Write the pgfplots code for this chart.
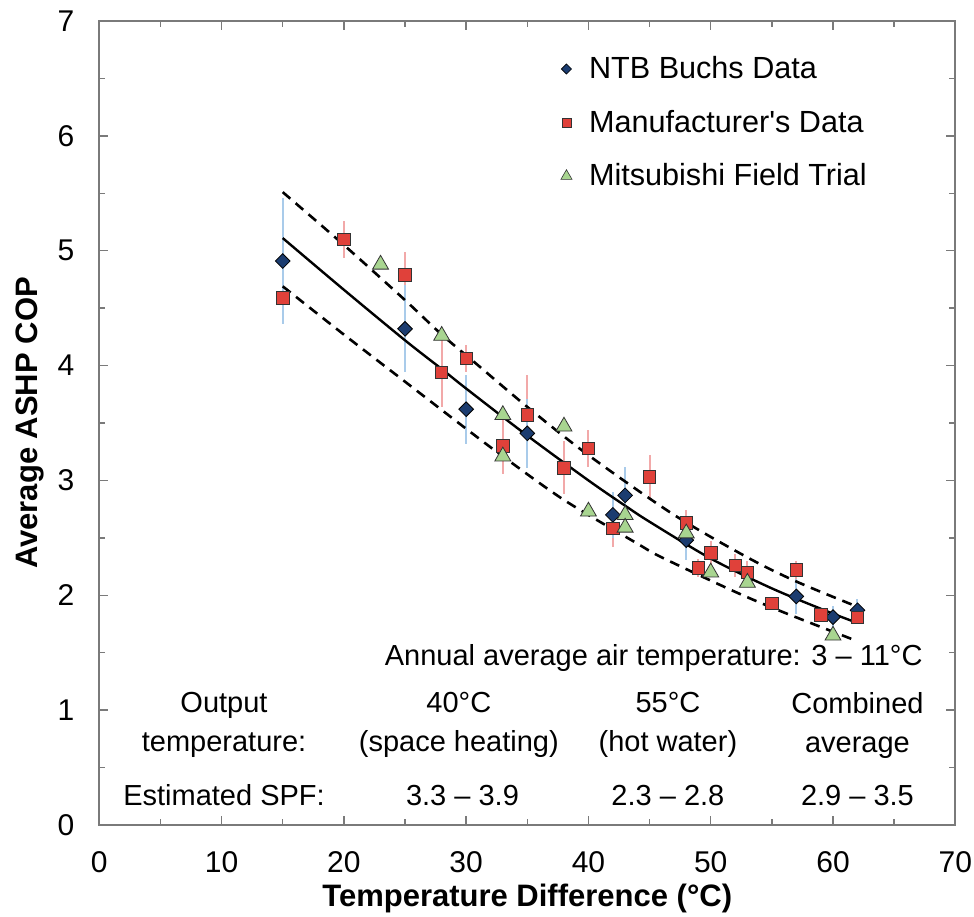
\documentclass[border=0pt]{standalone}
\usepackage{fontspec}
\setmainfont{Liberation Sans}
\usepackage{pgfplots}
\pgfplotsset{compat=1.18}

\definecolor{ntbblue}{HTML}{1B3C70}
\definecolor{mfrred}{HTML}{E0413A}
\definecolor{mitgreen}{HTML}{A8D590}
\definecolor{barblue}{HTML}{A9CBEA}
\definecolor{barred}{HTML}{F2A9A9}
\definecolor{axisgray}{HTML}{7A7A7A}

\begin{document}
\begin{tikzpicture}
\begin{axis}[
    scale only axis, width=428pt, height=402pt,
    at={(0,0)}, anchor=south west,
    xmin=0, xmax=70, ymin=0, ymax=7,
    xtick={0,10,...,70}, ytick={0,1,...,7},
    minor x tick num=1, minor y tick num=1,
    tick align=inside,
    major tick length=4.5pt, minor tick length=3pt,
    tick style={axisgray, line width=0.7pt},
    axis line style={axisgray, line width=1.1pt},
    tick label style={font=\fontsize{15}{17}\selectfont},
    /pgf/number format/assume math mode=true,
    yticklabel style={xshift=-9pt},
    xticklabel style={yshift=-9.5pt},
    xlabel={\bfseries Temperature Difference (°C)},
    ylabel={\bfseries Average ASHP COP},
    every axis x label/.style={at={(axis description cs:0.5,0)}, anchor=center, yshift=-36.5pt, font=\fontsize{15.5}{18}\selectfont},
    every axis y label/.style={at={(axis description cs:0,0.5)}, anchor=center, rotate=90, yshift=34.5pt, font=\fontsize{15.5}{18}\selectfont},
    legend style={at={(axis cs:37.3,6.73)}, anchor=north west, draw=none, fill=none,
        font=\fontsize{15.3}{18}\selectfont, row sep=10.2pt, inner xsep=0pt, inner ysep=0pt},
    legend cell align=left,
    legend image code/.code={\draw[#1] plot coordinates {(0.18cm,0cm)}; \path (0cm,0cm) (0.5cm,0cm);},
]
% error bars (drawn first)
\addplot[only marks, mark=none, forget plot,
    error bars/.cd, y dir=both, y explicit, error mark=none,
    error bar style={barred, line width=1pt}] coordinates {
    (15,4.59) +- (0,0.20) (20,5.10) +- (0,0.16) (25,4.79) +- (0,0.20)
    (28,3.94) +- (0,0.30) (30,4.06) +- (0,0.12) (33,3.30) +- (0,0.24)
    (35,3.57) +- (0,0.35) (38,3.11) +- (0,0.23) (40,3.28) +- (0,0.16)
    (42,2.58) +- (0,0.16) (45,3.03) +- (0,0.19) (48,2.63) +- (0,0.11)
    (49,2.24) +- (0,0.08) (50,2.37) +- (0,0.10) (52,2.26) +- (0,0.10)
    (53,2.20) +- (0,0.10) (55,1.93) +- (0,0.05) (57,2.22) +- (0,0.08)
    (59,1.83) +- (0,0.05) (62,1.81) +- (0,0.05)
};
\addplot[only marks, mark=none, forget plot,
    error bars/.cd, y dir=both, y explicit, error mark=none,
    error bar style={barblue, line width=1pt}] coordinates {
    (15,4.91) +- (0,0.55) (25,4.32) +- (0,0.38) (30,3.62) +- (0,0.30)
    (35,3.41) +- (0,0.30) (42,2.70) +- (0,0.20) (43,2.87) +- (0,0.25)
    (48,2.48) +- (0,0.17) (57,1.99) +- (0,0.15) (60,1.81) +- (0,0.10)
    (62,1.87) +- (0,0.10)
};
% fitted curve and bounds
\addplot[black, line width=1.2pt, smooth, forget plot] coordinates {
    (15,5.11) (20,4.66) (25,4.22) (28,3.97) (30,3.80) (35,3.39) (40,3.00)
    (43,2.78) (45,2.64) (50,2.32) (55,2.06) (60,1.84) (62,1.76)
};
\addplot[black, line width=1.3pt, smooth, dash pattern=on 5pt off 3.5pt, forget plot] coordinates {
    (15,5.51) (20,5.05) (25,4.57) (28,4.27) (31,4.00) (35,3.64) (40,3.22)
    (47,2.70) (53,2.33) (57,2.12) (62,1.90)
};
\addplot[black, line width=1.3pt, smooth, dash pattern=on 5pt off 3.5pt, forget plot] coordinates {
    (15,4.69) (20,4.27) (25,3.86) (30,3.45) (33,3.21) (38,2.83) (44,2.45)
    (46,2.33) (52,2.03) (56,1.85) (62,1.60)
};
% markers
\addplot[only marks, mark=square*, mark size=2.6pt, forget plot,
    mark options={rotate=45, fill=ntbblue, draw=black, line width=0.4pt}] coordinates {
    (15,4.91) (25,4.32) (30,3.62) (35,3.41) (42,2.70) (43,2.87)
    (48,2.48) (57,1.99) (60,1.81) (62,1.87)
};
\addplot[only marks, mark=square*, mark size=3.1pt, forget plot,
    mark options={fill=mfrred, draw=black!80, line width=0.4pt}] coordinates {
    (15,4.59) (20,5.10) (25,4.79) (28,3.94) (30,4.06) (33,3.30) (35,3.57)
    (38,3.11) (40,3.28) (42,2.58) (45,3.03) (48,2.63) (49,2.24) (50,2.37)
    (52,2.26) (53,2.20) (55,1.93) (57,2.22) (59,1.83) (62,1.81)
};
\addplot[only marks, mark=triangle*, mark size=4.6pt, forget plot,
    mark options={fill=mitgreen, draw=black!80, line width=0.4pt}] coordinates {
    (23,4.88) (28,4.26) (33,3.57) (33,3.21) (38,3.47) (40,2.73) (43,2.70)
    (43,2.59) (48,2.54) (50,2.20) (53,2.11) (60,1.65)
};
% legend
\addlegendimage{only marks, mark=square*, mark size=1.8pt, mark options={rotate=45, fill=ntbblue, draw=black, line width=0.3pt}}
\addlegendentry{NTB Buchs Data}
\addlegendimage{only marks, mark=square*, mark size=2.2pt, mark options={fill=mfrred, draw=black!80, line width=0.3pt}}
\addlegendentry{Manufacturer\textquotesingle s Data}
\addlegendimage{only marks, mark=triangle*, mark size=3.2pt, mark options={fill=mitgreen, draw=black!80, line width=0.3pt}}
\addlegendentry{Mitsubishi Field Trial}
% annotations
\node[anchor=east, font=\fontsize{14.5}{17}\selectfont] at (axis cs:67.9,1.45) {Annual average air temperature: 3 -- 11°C};
\node[align=center, font=\fontsize{14.5}{19.5}\selectfont] at (axis cs:10.2,0.87) {Output\\temperature:};
\node[align=center, font=\fontsize{14.5}{19.5}\selectfont] at (axis cs:29.4,0.87) {40°C\\(space heating)};
\node[align=center, font=\fontsize{14.5}{19.5}\selectfont] at (axis cs:46.5,0.87) {55°C\\(hot water)};
\node[align=center, font=\fontsize{14.5}{19.5}\selectfont] at (axis cs:62.0,0.87) {Combined\\average};
\node[font=\fontsize{14.5}{17}\selectfont] at (axis cs:10.2,0.26) {Estimated SPF:};
\node[font=\fontsize{14.5}{17}\selectfont] at (axis cs:29.7,0.26) {3.3 -- 3.9};
\node[font=\fontsize{14.5}{17}\selectfont] at (axis cs:46.5,0.26) {2.3 -- 2.8};
\node[font=\fontsize{14.5}{17}\selectfont] at (axis cs:62.0,0.26) {2.9 -- 3.5};
\end{axis}
\pgfresetboundingbox
\useasboundingbox (-49.65pt,-45.5pt) rectangle (437.35pt,412.5pt);
\end{tikzpicture}
\end{document}
